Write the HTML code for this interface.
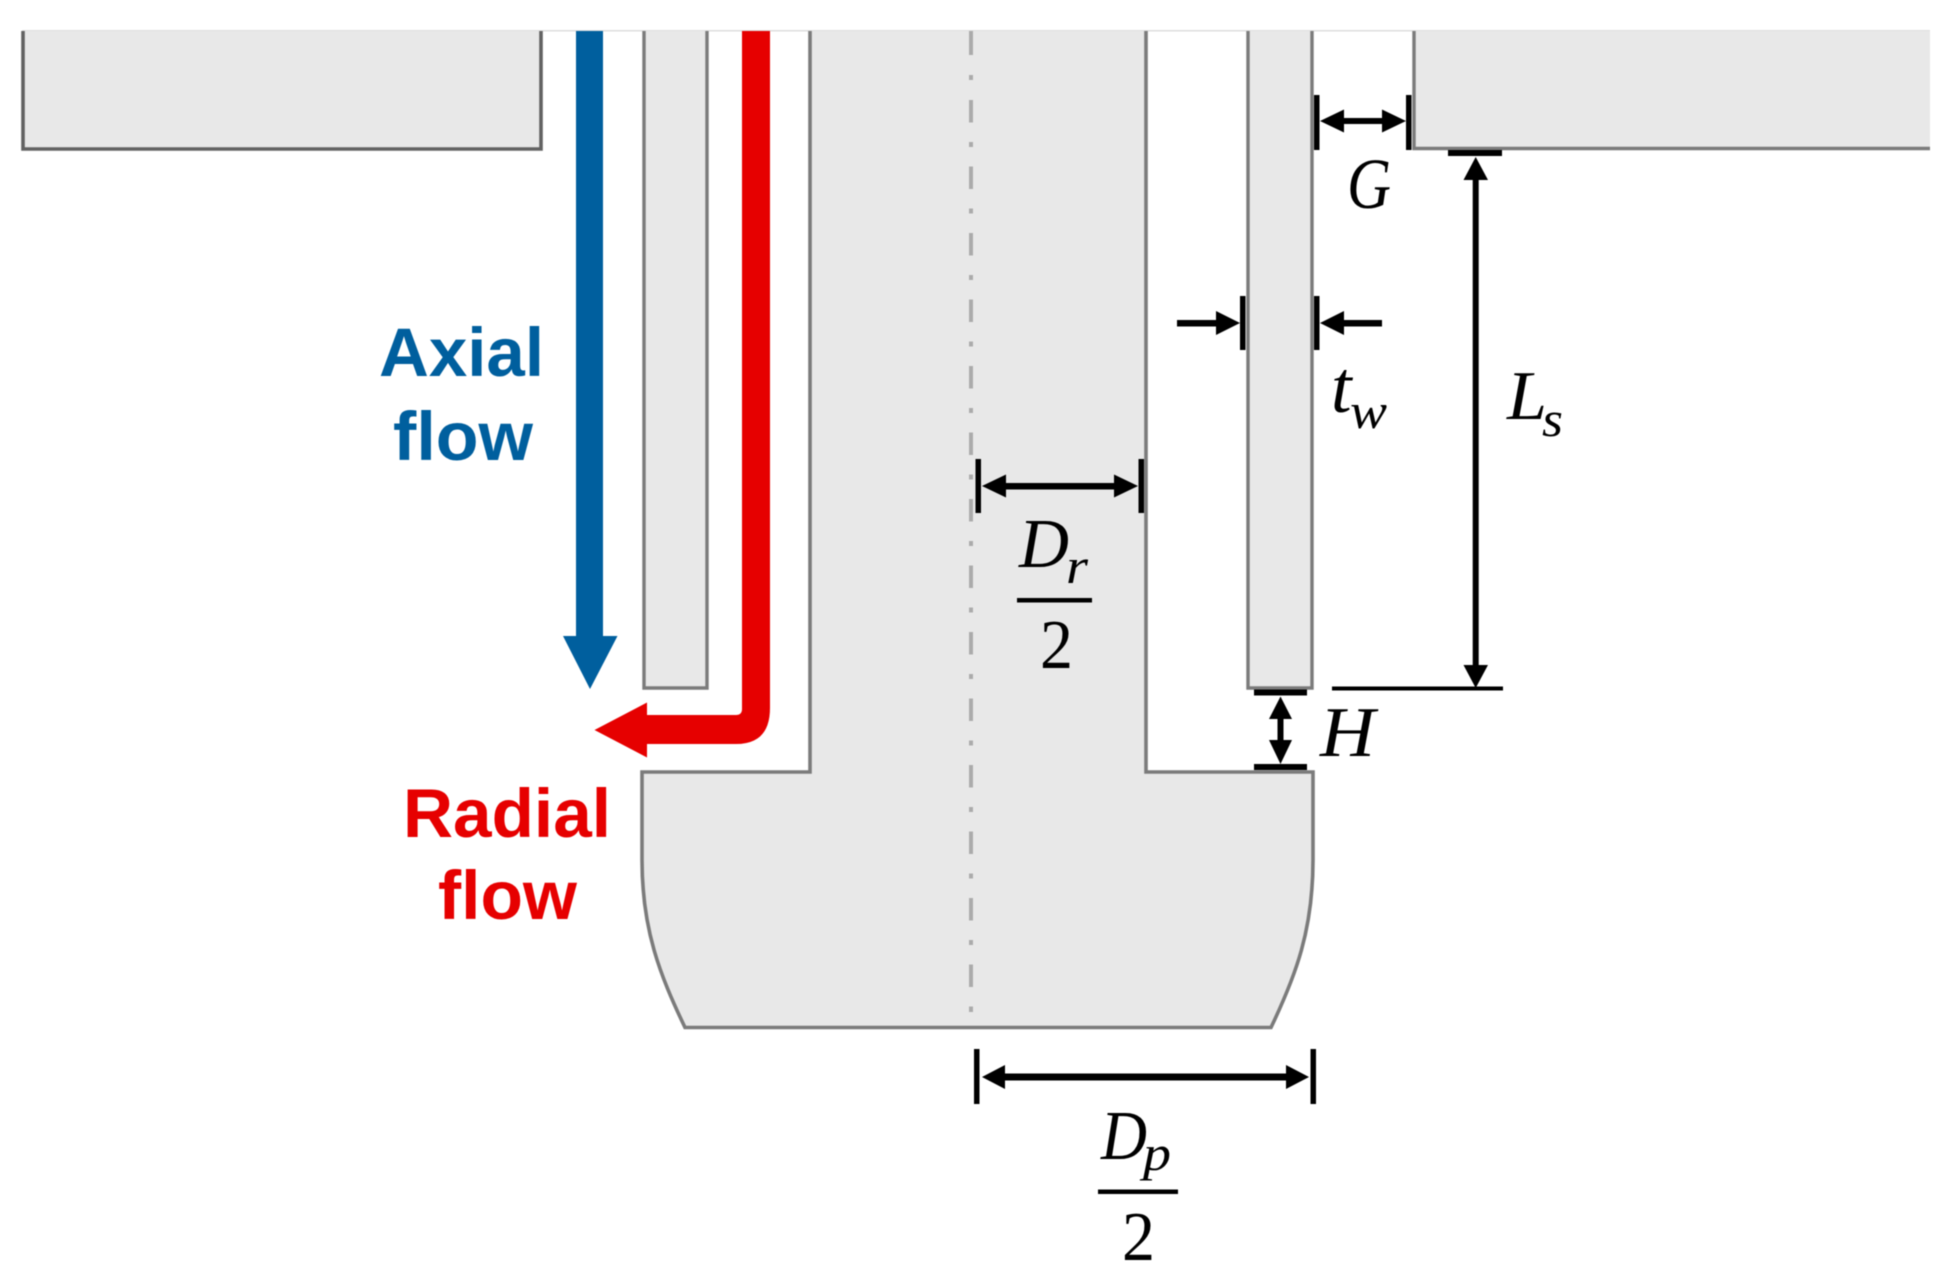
<!DOCTYPE html>
<html>
<head>
<meta charset="utf-8">
<style>
html,body{margin:0;padding:0;background:#fff;width:1950px;height:1273px;overflow:hidden}
svg{display:block;filter:blur(0.6px)}
.s{font-family:"Liberation Serif",serif;font-style:italic;fill:#000}
.n{font-family:"Liberation Serif",serif;fill:#000}
.b{font-family:"Liberation Sans",sans-serif;font-weight:bold}
</style>
</head>
<body>
<svg width="1950" height="1273" viewBox="0 0 1950 1273" xmlns="http://www.w3.org/2000/svg">
<!-- top hairline -->
<rect x="22" y="30" width="1908" height="1.5" fill="#dedede"/>
<!-- left block -->
<path d="M23 31V149H541V31" fill="#e8e8e8" stroke="#626262" stroke-width="3.6"/>
<!-- right block -->
<path d="M1414 31V148.500H1930V31Z" fill="#e8e8e8" stroke="none"/>
<path d="M1414 31V148.500H1930" fill="none" stroke="#7b7b7b" stroke-width="3.400"/>
<!-- left wall -->
<path d="M644 31V688H707V31" fill="#e8e8e8" stroke="#7b7b7b" stroke-width="3.400"/>
<!-- right wall -->
<path d="M1248 31V688H1312V31" fill="#e8e8e8" stroke="#7b7b7b" stroke-width="3.400"/>
<!-- rod and disk -->
<path d="M810 31V772H642V860C642 930 660 975 685 1027.500H1271C1296 975 1313 930 1313 860V772H1146V31" fill="#e8e8e8" stroke="#7b7b7b" stroke-width="3.600"/>
<!-- center line -->
<path d="M971 31V55M971 75V80M971 100V122.500M971 142V147M971 166.500V189M971 208.500V213.500M971 233V255.500M971 275V280M971 299.500V322M971 341.500V346.500M971 366V388.500M971 408V413M971 432.500V455M971 474.500V479.500M971 499V521.500M971 541V546M971 565.500V588M971 607.500V612.500M971 632V654.500M971 674V679M971 698.500V721M971 740.500V745.500M971 765V787.500M971 807V812M971 831.500V854M971 873.500V878.500M971 898V920.500M971 940V945M971 964.500V987M971 1006.500V1012" fill="none" stroke="#ababab" stroke-width="4"/>
<!-- blue arrow -->
<path d="M576 31H603V636H617.500L590 689L563 636H576Z" fill="#005f9e"/>
<!-- red arrow -->
<path d="M742 31H770V708Q770 744 736 744H647V757.500L594.500 730L647 702.500V715H736Q742 715 742 709Z" fill="#e60000"/>
<!-- flow labels -->
<g class="b" font-size="69" fill="#005f9e">
<text x="379" y="376" textLength="165" lengthAdjust="spacingAndGlyphs">Axial</text>
<text x="393" y="460" textLength="140" lengthAdjust="spacingAndGlyphs">flow</text>
</g>
<g class="b" font-size="69" fill="#e60000">
<text x="403" y="837" textLength="208" lengthAdjust="spacingAndGlyphs">Radial</text>
<text x="438" y="919" textLength="139" lengthAdjust="spacingAndGlyphs">flow</text>
</g>
<!-- dims -->
<g fill="#000" stroke="none">
<!-- G dim -->
<rect x="1314" y="95" width="5.500" height="55"/>
<rect x="1406" y="95" width="5.500" height="55"/>
<rect x="1340" y="118" width="46" height="6"/>
<path d="M1320 121L1344 109.500V132.500Z"/>
<path d="M1406 121L1382 109.500V132.500Z"/>
<!-- tw dim -->
<rect x="1240" y="296" width="5.500" height="54"/>
<rect x="1314" y="296" width="5.500" height="54"/>
<rect x="1177" y="320" width="42" height="6.500"/>
<path d="M1240 323L1216 311V335Z"/>
<rect x="1342" y="320" width="40" height="6.500"/>
<path d="M1320 323L1344 311V335Z"/>
<!-- Ls dim -->
<rect x="1448" y="150" width="54" height="6"/>
<rect x="1472.700" y="175" width="6" height="495"/>
<path d="M1475.700 157L1463.500 180H1488Z"/>
<path d="M1475.700 688L1463.500 665H1488Z"/>
<rect x="1332" y="686.500" width="171" height="4"/>
<!-- H dim -->
<rect x="1254" y="689.500" width="53" height="6"/>
<rect x="1254" y="764" width="53" height="6"/>
<rect x="1277.500" y="715" width="6" height="30"/>
<path d="M1280.500 696.500L1269 719H1292Z"/>
<path d="M1280.500 764L1269 740H1292Z"/>
<!-- Dr dim -->
<rect x="975.500" y="459" width="5.500" height="54"/>
<rect x="1138.500" y="459" width="5.500" height="54"/>
<rect x="1000" y="483" width="120" height="6.500"/>
<path d="M982 486L1006 474.500V497.500Z"/>
<path d="M1138 486L1114 474.500V497.500Z"/>
<rect x="1017" y="598" width="75" height="4.500"/>
<!-- Dp dim -->
<rect x="974" y="1049" width="5.500" height="55"/>
<rect x="1310.500" y="1049" width="5.500" height="55"/>
<rect x="1000" y="1073.500" width="290" height="7"/>
<path d="M982 1077L1005 1065V1089Z"/>
<path d="M1309 1077L1286 1065V1089Z"/>
<rect x="1098" y="1189.500" width="80" height="4.500"/>
</g>
<!-- math labels -->
<text class="s" x="1347" y="208" font-size="72" textLength="44" lengthAdjust="spacingAndGlyphs">G</text>
<text class="s" x="1331" y="412" font-size="74">t</text>
<text class="s" x="1350" y="428" font-size="50" textLength="37" lengthAdjust="spacingAndGlyphs">w</text>
<text class="s" x="1507" y="419" font-size="70" textLength="40" lengthAdjust="spacingAndGlyphs">L</text>
<text class="s" x="1542" y="436" font-size="50" textLength="21" lengthAdjust="spacingAndGlyphs">s</text>
<text class="s" x="1320" y="756" font-size="71" textLength="55" lengthAdjust="spacingAndGlyphs">H</text>
<text class="s" x="1019" y="567" font-size="70" textLength="50" lengthAdjust="spacingAndGlyphs">D</text>
<text class="s" x="1066" y="583" font-size="50" textLength="22" lengthAdjust="spacingAndGlyphs">r</text>
<text class="n" x="1040" y="668" font-size="70" textLength="33" lengthAdjust="spacingAndGlyphs">2</text>
<text class="s" x="1101" y="1159" font-size="70" textLength="46" lengthAdjust="spacingAndGlyphs">D</text>
<text class="s" x="1143" y="1170" font-size="50" textLength="28" lengthAdjust="spacingAndGlyphs">p</text>
<text class="n" x="1122" y="1260" font-size="70" textLength="33" lengthAdjust="spacingAndGlyphs">2</text>
</svg>
</body>
</html>
